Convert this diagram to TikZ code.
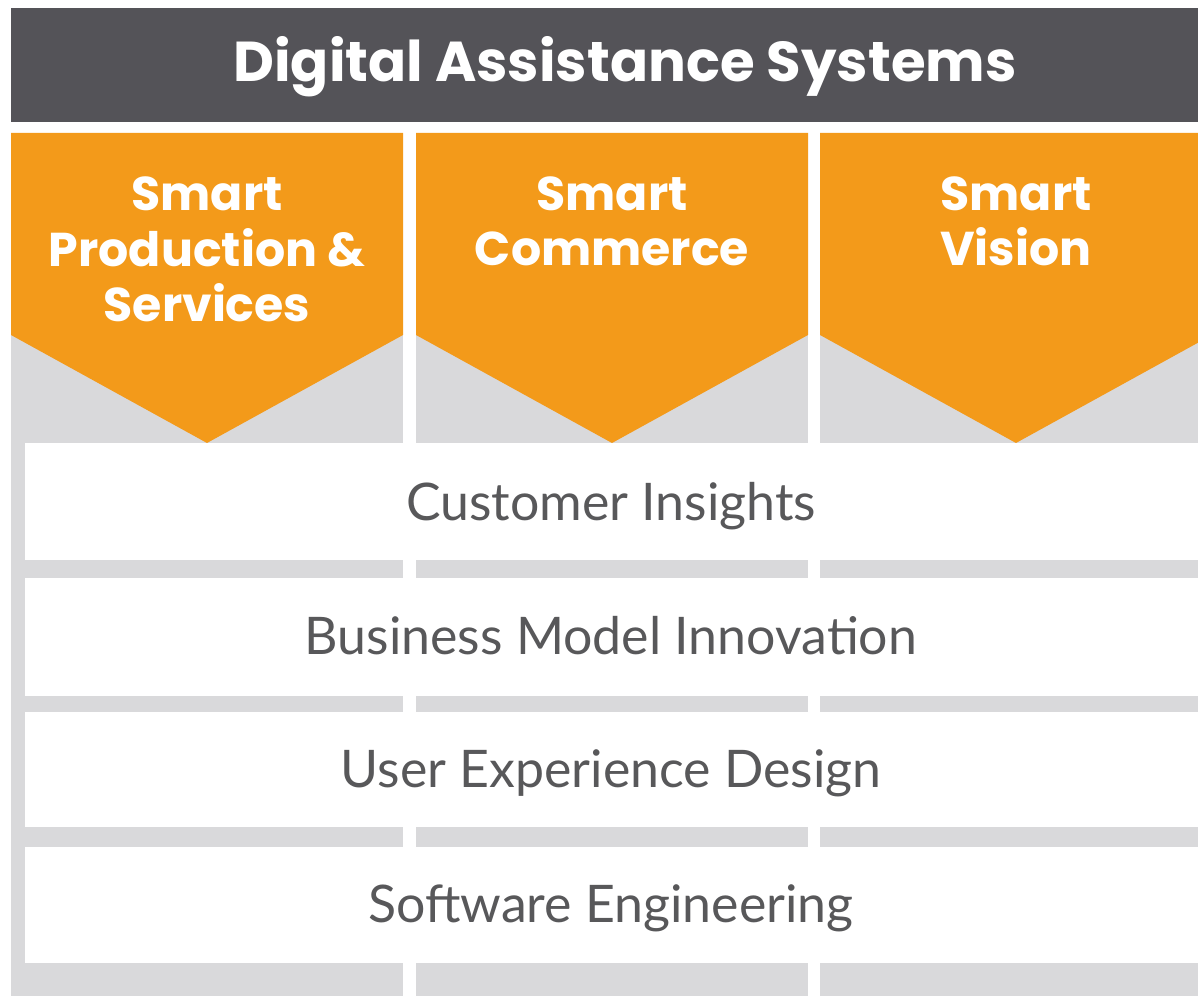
\documentclass[tikz,border=0pt]{standalone}
\usepackage{fontspec}
\setmainfont{Lato}
\newfontfamily\headfont{Poppins}
\definecolor{barGray}{HTML}{545358}
\definecolor{pillarGray}{HTML}{D9D9DB}
\definecolor{smartOrange}{HTML}{F39A1A}
\definecolor{bandText}{HTML}{58585A}
\begin{document}
\begin{tikzpicture}[x=0.02cm,y=-0.02cm,
    titletext/.style={text=white,anchor=base,inner sep=0pt,font=\headfont\bfseries\fontsize{32}{38}\selectfont},
    pillartext/.style={text=white,anchor=base,inner sep=0pt,align=center,font=\headfont\bfseries\fontsize{27}{31.75}\selectfont},
    bandlabel/.style={text=bandText,anchor=base,inner sep=0pt,font=\fontsize{29.5}{34}\selectfont}]
  \useasboundingbox (0,0) rectangle (1198,996);
  \clip (0,0) rectangle (1198,996);
  \fill[barGray] (11,8) rectangle (1212,122);
  \node[titletext] (title) at (625,82) {Digital Assistance Systems};
  \foreach \l in {11,416,820} {
    \fill[pillarGray] (\l,133) rectangle (\l+392,996);
    \fill[smartOrange] (\l,133) -- (\l+392,133) -- (\l+392,335) -- (\l+196,443) -- (\l,335) -- cycle;
  }
  \node[pillartext] (prod) at (207,322) {Smart\\Production \&\\Services};
  \node[pillartext] (comm) at (612,266) {Smart\\Commerce};
  \node[pillartext] (vis) at (1016,266) {Smart\\Vision};
  \foreach \t/\b in {443/560,578/696,712/827,847/963}
    \fill[white] (25,\t) rectangle (1212,\b);
  \node[bandlabel] (insights) at (611,521) {Customer Insights};
  \node[bandlabel] (bmi) at (611,655) {Business Model Innovation};
  \node[bandlabel] (ux) at (611,788) {User Experience Design};
  \node[bandlabel] (swe) at (611,923) {Software Engineering};
\end{tikzpicture}
\end{document}
